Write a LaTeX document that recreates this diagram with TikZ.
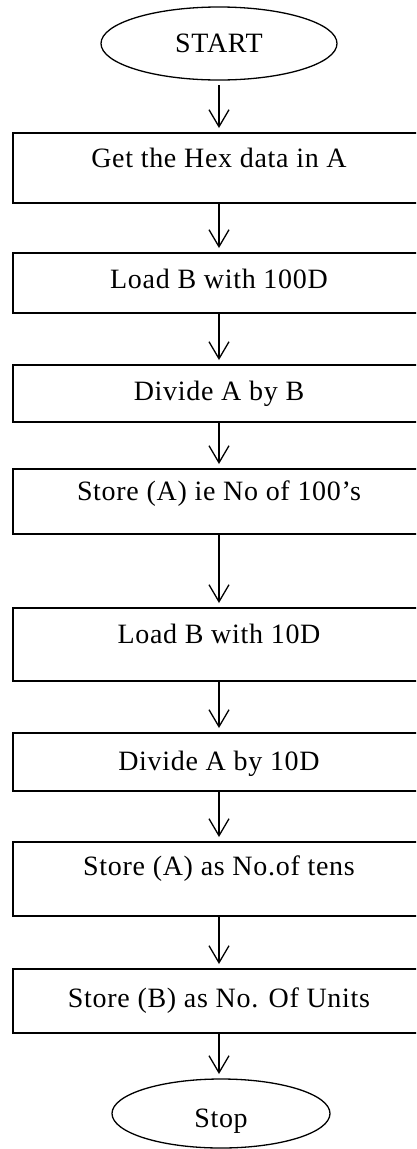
\documentclass[tikz,border=0pt]{standalone}
\usepackage{fontspec}
\setmainfont{Liberation Serif}[LetterSpace=2.5]
\usetikzlibrary{arrows.meta,shapes.geometric}

\tikzset{
  terminal/.style={draw, ellipse, line width=1.3pt, inner sep=0pt, outer sep=0pt},
  procbox/.style={rectangle, minimum width=412pt, inner sep=0pt, outer sep=0pt, anchor=north},
  boxline/.style={line width=1.5pt, line join=miter},
  flowarrow/.style={line width=1.3pt, -{Straight Barb[length=17pt,width=20pt]}, shorten >=5pt}
}

\begin{document}
\begin{tikzpicture}[x=1pt, y=-1pt, font=\fontsize{28}{33}\selectfont]
  \useasboundingbox (0,0) rectangle (416,1149);
  \clip (0,0) rectangle (416,1149);
  \node[terminal, minimum width=236pt, minimum height=73pt] (start) at (219,43.5) {START};
  \node[procbox, text height=34pt, text depth=36pt] (getdata) at (219,133) {Get the Hex data in A};
  \node[procbox, text height=35pt, text depth=25pt] (loadh) at (219,253) {Load B with 100D};
  \node[procbox, text height=35pt, text depth=22pt] (divh) at (219,365) {Divide A by B};
  \node[procbox, text height=31pt, text depth=34pt] (storeh) at (219,469) {Store (A) ie No of 100’s};
  \node[procbox, text height=35pt, text depth=38pt] (loadt) at (219,608) {Load B with 10D};
  \node[procbox, text height=37pt, text depth=21pt] (divt) at (219,733) {Divide A by 10D};
  \node[procbox, text height=33pt, text depth=41pt] (storet) at (219,842) {Store (A) as No.of tens};
  \node[procbox, text height=38pt, text depth=26pt] (storeu) at (219,969) {Store (B) as No. Of Units};
  \node[terminal, minimum width=218pt, minimum height=69pt, text height=27pt, text depth=0pt] (stop) at (221,1113.5) {Stop};

  % boxes run off the right edge of the page
  \foreach \n in {getdata, loadh, divh, storeh, loadt, divt, storet, storeu} {
    \draw[boxline] (\n.north east) -- (\n.north west) -- (\n.south west) -- (\n.south east);
  }

  \draw[flowarrow, shorten <=5pt] (start.south) -- (getdata.north);
  \foreach \a/\b in {getdata/loadh, loadh/divh, divh/storeh, storeh/loadt,
                     loadt/divt, divt/storet, storet/storeu} {
    \draw[flowarrow] (\a.south) -- (\b.north);
  }
  \draw[flowarrow] (storeu.south) -- (storeu.south |- stop.north);
\end{tikzpicture}
\end{document}
